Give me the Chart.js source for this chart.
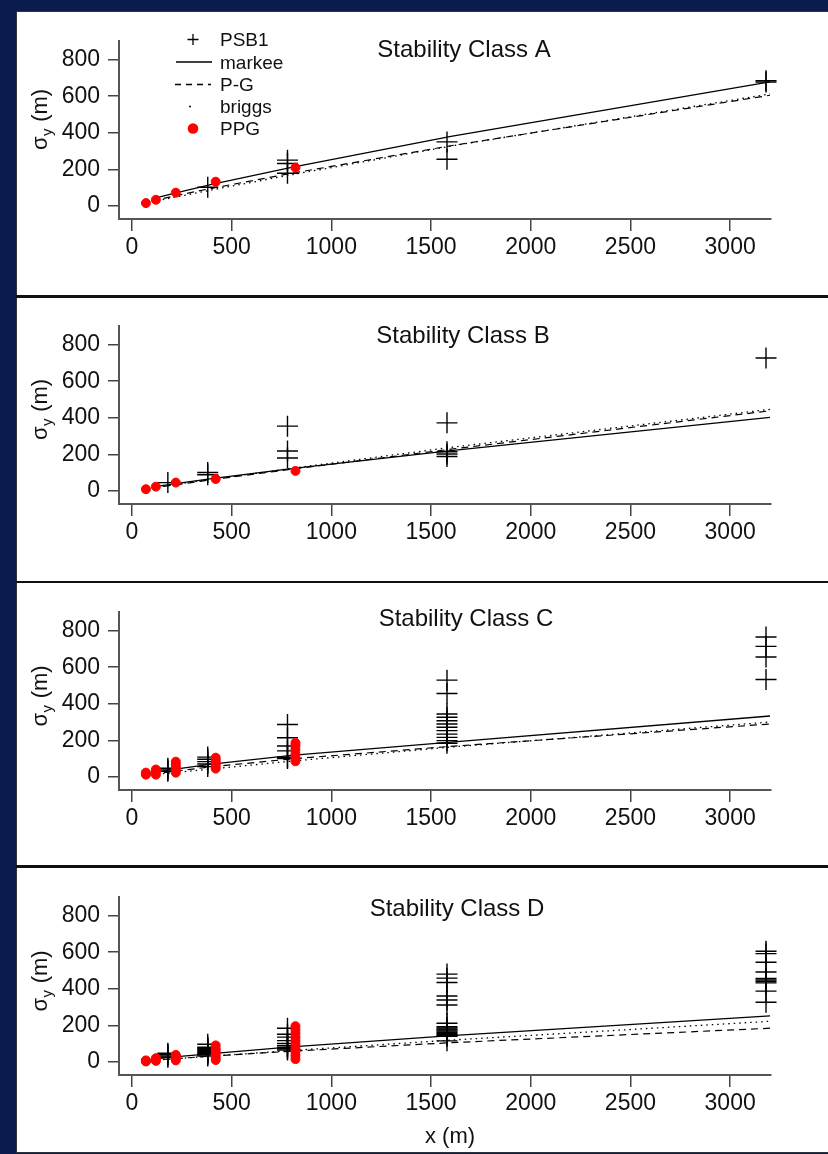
<!DOCTYPE html>
<html>
<head>
<meta charset="utf-8">
<script src="https://cdn.jsdelivr.net/npm/chart.js@4.4.1/dist/chart.umd.min.js"></script>
<style>
  html, body { margin: 0; padding: 0; background: #0b1b4d; }
  #page { position: relative; width: 828px; height: 1154px; overflow: hidden; }
  #sheet { position: absolute; left: 16px; top: 11px; width: 830px; height: 1142px;
           background: #fff; border: 1.5px solid #333; box-sizing: border-box; }
  .sep { position: absolute; left: 16px; width: 812px; height: 2.5px; background: #111; }
  canvas { position: absolute; left: 0; }
</style>
</head>
<body>
<div id="page">
  <div id="sheet"></div>
  <div class="sep" style="top:295px"></div>
  <div class="sep" style="top:580.5px"></div>
  <div class="sep" style="top:865px"></div>
</div>
<script>
// axis ticks and the shared x positions
const xTicks = [0, 500, 1000, 1500, 2000, 2500, 3000];
const yTicks = [0, 200, 400, 600, 800];
const psbX = [180, 380, 780, 1580, 3180];
const ppgX = [70, 120, 220, 420, 820];
const curveX = [100, 200, 400, 800, 1600, 3200];
const legendLabels = ["PSB1", "markee", "P-G", "briggs", "PPG"];
const classNames = ["A", "B", "C", "D"];

// Stability class A
const psbA = [[], [102], [250, 232, 178], [350, 255], [685, 678]];
const ppgA = [[15], [33], [72], [132], [209]];
const markeeA = [38, 66, 118, 210, 380, 678];
const pgA = [27, 51, 96, 178, 329, 605];
const briggsA = [22, 44, 87, 170, 327, 612];

// Stability class B
const psbB = [[45], [100, 88], [354, 218, 180], [372, 214, 202, 188], [727]];
const ppgB = [[9], [23], [45], [65], [109]];
const markeeB = [20, 37, 67, 122, 220, 402];
const pgB = [16, 30, 61, 118, 228, 438];
const briggsB = [16, 32, 63, 123, 238, 446];

// Stability class C
const psbC = [[30, 38, 47], [56, 70, 83, 96, 108], [100, 107, 142, 169, 214, 286],
  [529, 456, 344, 326, 307, 289, 271, 253, 234, 216, 198, 184], [765, 714, 656, 533]];
const ppgC = [[12, 18, 23], [12, 25, 40], [23, 38, 52, 67, 83], [45, 60, 75, 90, 105],
  [85, 105, 125, 150, 170, 186]];
const markeeC = [22, 39, 70, 118, 190, 333];
const pgC = [15, 29, 55, 98, 167, 289];
const briggsC = [11, 22, 43, 86, 163, 300];

// Stability class D
const psbD = [[25, 32, 40, 47], [32, 38, 44, 50, 56, 62, 68, 74, 80, 96],
  [184, 151, 135, 116, 100, 89, 80, 72, 65],
  [480, 458, 434, 360, 338, 311, 211, 192, 186, 180, 174, 168, 162, 156, 150, 144, 140, 115],
  [605, 592, 545, 492, 456, 448, 440, 432, 387, 326]];
const ppgD = [[2, 5, 8], [5, 12, 20], [8, 18, 28, 38], [10, 25, 40, 55, 70, 90],
  [15, 35, 55, 75, 95, 115, 135, 155, 175, 195]];
const markeeD = [14, 26, 45, 82, 143, 252];
const pgD = [8, 16, 32, 58, 105, 184];
const briggsD = [8, 16, 31, 62, 119, 222];

const panels = [
  { psb: psbA, ppg: ppgA, markee: markeeA, pg: pgA, briggs: briggsA },
  { psb: psbB, ppg: ppgB, markee: markeeB, pg: pgB, briggs: briggsB },
  { psb: psbC, ppg: ppgC, markee: markeeC, pg: pgC, briggs: briggsC },
  { psb: psbD, ppg: ppgD, markee: markeeD, pg: pgD, briggs: briggsD },
];

// layout of each panel
const FONT = "'Liberation Sans', Arial, sans-serif";
const canvasTop = [12, 297, 583, 868];
const titleX = [464, 463, 466, 457];
const titleBase = [44.7, 45.7, 43, 48];
const ylabStart = [138, 143, 143.5, 143.5];

const pts = (xs, groups) => groups.flatMap((g, k) => g.map(y => ({ x: xs[k], y })));
const curve = ys => ys.map((y, k) => ({ x: curveX[k], y }));

function drawLegend(ctx) {
  const rows = [27.5, 50, 72.5, 94.5, 116.5];
  ctx.save();
  ctx.strokeStyle = "#000";
  ctx.fillStyle = "#000";
  // PSB1 cross
  ctx.lineWidth = 1.3;
  ctx.beginPath();
  ctx.moveTo(187.5, rows[0]); ctx.lineTo(198.5, rows[0]);
  ctx.moveTo(193, rows[0] - 5.5); ctx.lineTo(193, rows[0] + 5.5);
  ctx.stroke();
  // markee
  ctx.beginPath();
  ctx.moveTo(176, rows[1]); ctx.lineTo(212, rows[1]);
  ctx.stroke();
  // P-G
  ctx.setLineDash([6, 5]);
  ctx.beginPath();
  ctx.moveTo(175, rows[2]); ctx.lineTo(211, rows[2]);
  ctx.stroke();
  ctx.setLineDash([]);
  // briggs
  ctx.beginPath();
  ctx.arc(190, rows[3], 1, 0, Math.PI * 2);
  ctx.fill();
  // PPG
  ctx.fillStyle = "#ff0000";
  ctx.beginPath();
  ctx.arc(193, rows[4], 5.3, 0, Math.PI * 2);
  ctx.fill();

  ctx.fillStyle = "#111";
  ctx.font = `19px ${FONT}`;
  ctx.textAlign = "left";
  ctx.textBaseline = "alphabetic";
  legendLabels.forEach((t, k) => ctx.fillText(t, 220, rows[k] + 6.5));
  ctx.restore();
}

const panelText = {
  id: "panelText",
  afterDraw(chart, args, opts) {
    const ctx = chart.ctx;
    ctx.save();
    ctx.fillStyle = "#111";
    ctx.textBaseline = "alphabetic";

    ctx.font = `24px ${FONT}`;
    ctx.textAlign = "center";
    ctx.fillText(opts.title, opts.titleX, opts.titleY);

    // sigma_y (m), rotated
    ctx.save();
    ctx.translate(47, opts.ylabY);
    ctx.rotate(-Math.PI / 2);
    ctx.textAlign = "left";
    ctx.font = `22px ${FONT}`;
    ctx.fillText("σ", 0, 0);
    let w = ctx.measureText("σ").width;
    ctx.font = `15px ${FONT}`;
    ctx.fillText("y", w + 0.5, 5);
    w += ctx.measureText("y").width + 1;
    ctx.font = `22px ${FONT}`;
    ctx.fillText(" (m)", w, 0);
    ctx.restore();

    if (opts.xlabel) {
      ctx.font = `22px ${FONT}`;
      ctx.textAlign = "center";
      ctx.fillText("x (m)", 450, 275);
    }
    if (opts.legend) drawLegend(ctx);
    ctx.restore();
  },
};

panels.forEach((p, i) => {
  const cv = document.createElement("canvas");
  cv.width = 828;
  cv.height = 284;
  cv.style.top = canvasTop[i] + "px";
  document.getElementById("page").appendChild(cv);

  new Chart(cv.getContext("2d"), {
    type: "scatter",
    data: {
      datasets: [
        { label: "PPG", data: pts(ppgX, p.ppg), showLine: false, clip: false,
          pointStyle: "circle", pointRadius: 4.5,
          pointBackgroundColor: "#ff0000", pointBorderColor: "#ff0000", pointBorderWidth: 1 },
        { label: "PSB1", data: pts(psbX, p.psb), showLine: false, clip: false,
          pointStyle: "cross", pointRadius: 10.5,
          pointBorderColor: "#000", pointBorderWidth: 1.4 },
        { label: "markee", data: curve(p.markee), showLine: true, pointRadius: 0,
          borderColor: "#000", borderWidth: 1.3 },
        { label: "P-G", data: curve(p.pg), showLine: true, pointRadius: 0,
          borderColor: "#000", borderWidth: 1.2, borderDash: [7, 5] },
        { label: "briggs", data: curve(p.briggs), showLine: true, pointRadius: 0,
          borderColor: "#000", borderWidth: 1.3, borderDash: [1.5, 4] },
      ],
    },
    options: {
      responsive: false,
      animation: false,
      devicePixelRatio: 1,
      events: [],
      layout: { padding: { top: 29, right: 57, left: 0, bottom: 0 } },
      plugins: {
        legend: { display: false },
        tooltip: { enabled: false },
        panelText: {
          title: "Stability Class " + classNames[i],
          titleX: titleX[i],
          titleY: titleBase[i],
          ylabY: ylabStart[i],
          xlabel: i === 3,
          legend: i === 0,
        },
      },
      scales: {
        x: {
          type: "linear",
          min: -65,
          max: 3205,
          afterBuildTicks: s => { s.ticks = xTicks.map(v => ({ value: v })); },
          afterFit: s => { s.height = 77; },
          ticks: { font: { family: FONT, size: 23 }, color: "#111", padding: 3,
                   maxRotation: 0, autoSkip: false, callback: v => String(v) },
          grid: { drawOnChartArea: false, tickLength: 12, color: "#444", lineWidth: 1.5 },
          border: { display: true, color: "#555", width: 2 },
        },
        y: {
          type: "linear",
          min: -72,
          max: 902,
          afterBuildTicks: s => { s.ticks = yTicks.map(v => ({ value: v })); },
          afterFit: s => { s.width = 119; },
          ticks: { font: { family: FONT, size: 23 }, color: "#111", padding: 8,
                   autoSkip: false, callback: v => String(v) },
          grid: { drawOnChartArea: false, tickLength: 11, color: "#444", lineWidth: 1.5 },
          border: { display: true, color: "#555", width: 2 },
        },
      },
    },
    plugins: [panelText],
  });
});
</script>
</body>
</html>
